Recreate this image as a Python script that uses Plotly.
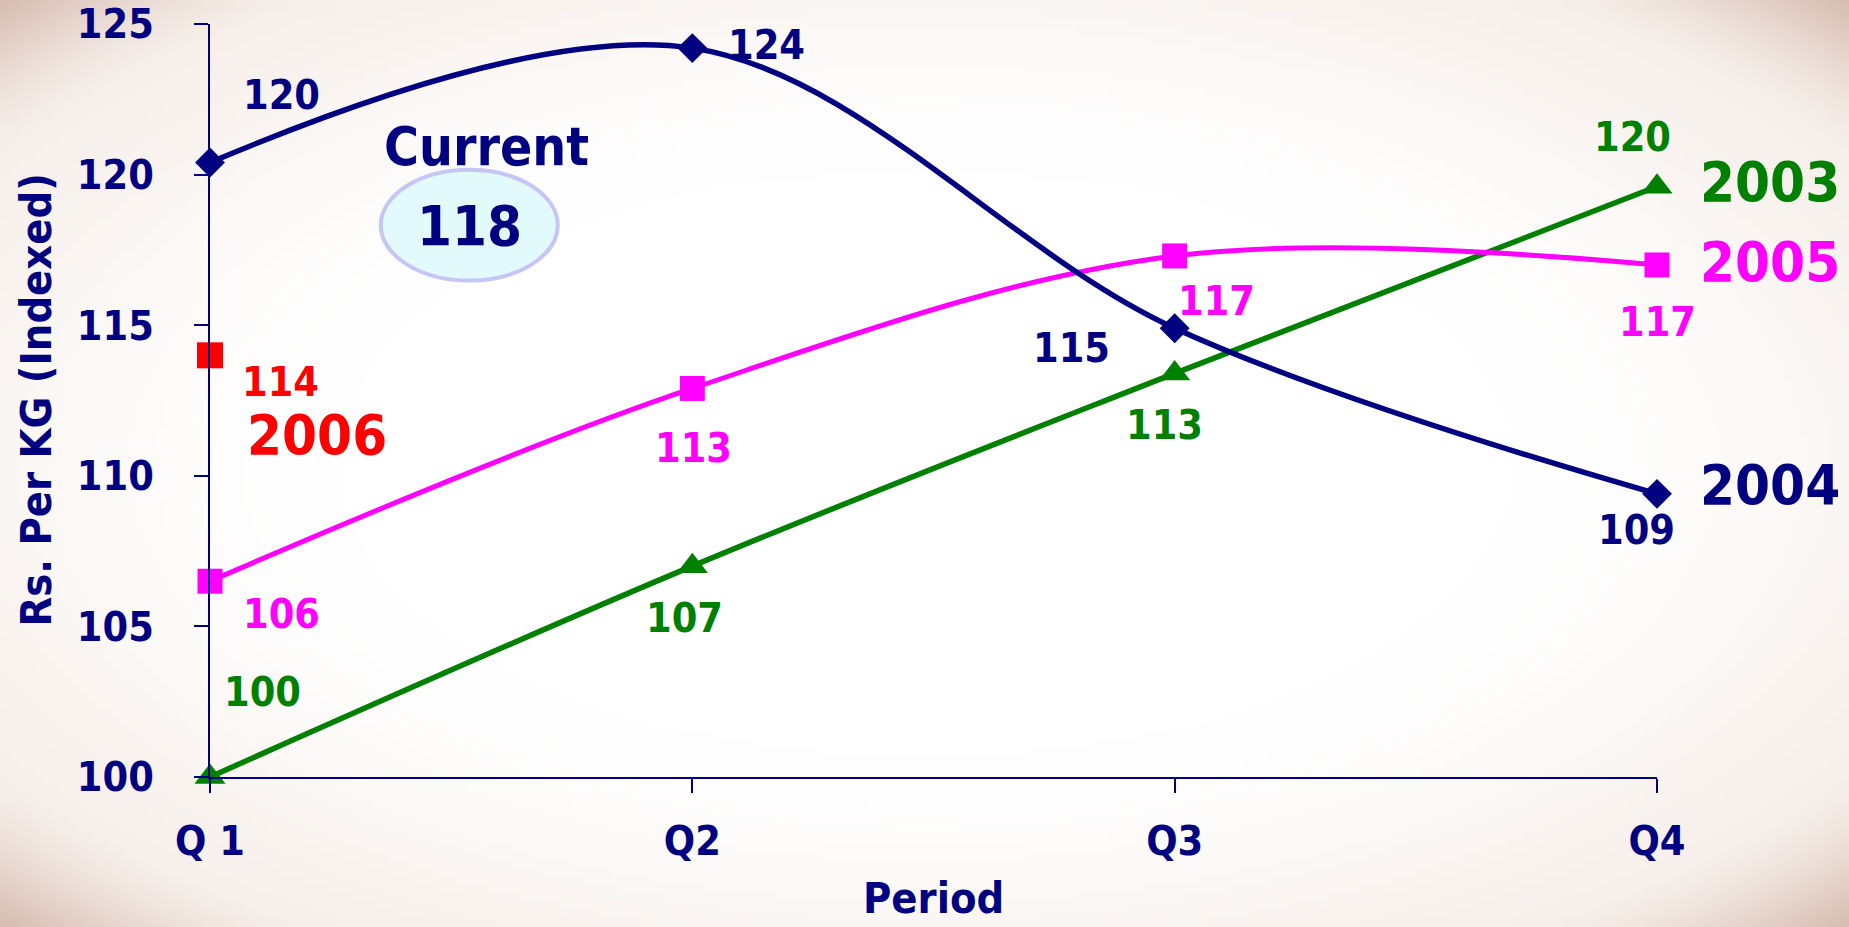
import base64
import struct
import zlib

import numpy as np
import plotly.graph_objects as go

# ---------------- data ----------------
periods = ["Q 1", "Q2", "Q3", "Q4"]
y2003 = [100.0, 107.0, 113.4, 119.6]
y2004 = [120.4, 124.2, 114.9, 109.4]
y2005 = [106.5, 112.9, 117.3, 117.0]
y2006 = [114.0]
lab2003 = ["100", "107", "113", "120"]
lab2004 = ["120", "124", "115", "109"]
lab2005 = ["106", "113", "117", "117"]
lab2006 = ["114"]
current_value = "118"
ytick_vals = [100, 105, 110, 115, 120, 125]

# ---------------- styles ----------------
NAVY = "#000080"
MAG = "#FF00FF"
GREEN = "#008000"
RED = "#FF0000"
FONT = "DejaVu Sans Condensed, DejaVu Sans, Verdana, sans-serif"

W, H = 1849, 927
ML, MR, MT, MB = 210, 192, 24, 150
PW, PH = W - ML - MR, H - MT - MB

# label pixel offsets (xshift, yshift) relative to each marker
off2004 = [(71, 68), (74, 3), (-103, -20), (-21, -36)]
off2005 = [(71, -33), (1, -60), (42, -45), (0, -57)]
off2003 = [(52, 85), (-8, -52), (-10, -52), (-25, 50)]
off2006 = [(70, -27)]


def vignette_png(w=240, h=120):
    u = (np.arange(w) + 0.5) / w
    v = (np.arange(h) + 0.5) / h
    U, V = np.meshgrid(u, v)
    dx = (U - 0.5) * 2
    dy = (V - 0.5) * 2
    d = np.sqrt(dx * dx + dy * dy) / np.sqrt(2)

    def smooth(a, b, x):
        t = np.clip((x - a) / (b - a), 0, 1)
        return t * t * (3 - 2 * t)

    t1 = smooth(0.45, 1.0, d)
    t2 = smooth(0.82, 1.05, d) ** 1.4
    white = np.array([255, 255, 255], float)
    edge = np.array([245, 236, 230], float)
    corner = np.array([208, 180, 168], float)
    img = white[None, None, :] * (1 - t1[..., None]) + edge[None, None, :] * t1[..., None]
    img = img * (1 - t2[..., None]) + corner[None, None, :] * t2[..., None]
    img = np.clip(img, 0, 255).astype(np.uint8)
    raw = b"".join(b"\x00" + img[j].tobytes() for j in range(h))

    def chunk(tag, data):
        c = struct.pack(">I", len(data)) + tag + data
        return c + struct.pack(">I", zlib.crc32(tag + data) & 0xFFFFFFFF)

    png = b"\x89PNG\r\n\x1a\n"
    png += chunk(b"IHDR", struct.pack(">IIBBBBB", w, h, 8, 2, 0, 0, 0))
    png += chunk(b"IDAT", zlib.compress(raw, 9))
    png += chunk(b"IEND", b"")
    return "data:image/png;base64," + base64.b64encode(png).decode()


fig = go.Figure()

series = [
    ("2003", y2003, GREEN, "triangle-up", 27, 5.5),
    ("2005", y2005, MAG, "square", 25, 5),
    ("2004", y2004, NAVY, "diamond", 23, 5.5),
]
for name, ys, col, sym, msize, lw in series:
    fig.add_trace(go.Scatter(
        x=periods[:len(ys)], y=ys, name=name, mode="lines+markers",
        line=dict(color=col, width=lw, shape="spline", smoothing=1.0),
        marker=dict(symbol=sym, size=msize, color=col),
        cliponaxis=False, showlegend=False,
    ))
fig.add_trace(go.Scatter(
    x=periods[:len(y2006)], y=y2006, name="2006", mode="markers",
    marker=dict(symbol="square", size=26, color=RED),
    cliponaxis=False, showlegend=False,
))

ann = []


def add_labels(ys, labels, offs, col):
    for i, (v, t, (dxp, dyp)) in enumerate(zip(ys, labels, offs)):
        ann.append(dict(x=periods[i], y=v, xref="x", yref="y", text=t,
                        showarrow=False, xshift=dxp, yshift=dyp,
                        xanchor="center", yanchor="middle",
                        font=dict(family=FONT, size=41, color=col, weight="bold")))


add_labels(y2004, lab2004, off2004, NAVY)
add_labels(y2005, lab2005, off2005, MAG)
add_labels(y2003, lab2003, off2003, GREEN)
add_labels(y2006, lab2006, off2006, RED)

# series names
for name, ys, col, dy in [("2003", y2003, GREEN, 5), ("2005", y2005, MAG, 3),
                          ("2004", y2004, NAVY, 9)]:
    ann.append(dict(x=periods[len(ys) - 1], y=ys[-1], xref="x", yref="y", text=name,
                    showarrow=False, xshift=41, yshift=dy, xanchor="left",
                    yanchor="middle",
                    font=dict(family=FONT, size=56, color=col, weight="bold")))
ann.append(dict(x=periods[0], y=y2006[0], xref="x", yref="y", text="2006",
                showarrow=False, xshift=35, yshift=-79, xanchor="left",
                yanchor="middle",
                font=dict(family=FONT, size=56, color=RED, weight="bold")))

# Current bubble
ann.append(dict(x=0.574, y=120.94, xref="x", yref="y", text="Current",
                showarrow=False, xanchor="center", yanchor="middle",
                font=dict(family=FONT, size=53, color=NAVY, weight="bold")))
ann.append(dict(x=0.537, y=118.32, xref="x", yref="y", text=current_value,
                showarrow=False, xanchor="center", yanchor="middle",
                font=dict(family=FONT, size=56, color=NAVY, weight="bold")))

# axis titles
ann.append(dict(x=0, y=0.5, xref="paper", yref="paper", text="Rs. Per KG (Indexed)",
                textangle=-90, showarrow=False, xanchor="center", yanchor="middle",
                xshift=-175,
                font=dict(family=FONT, size=43, color=NAVY, weight="bold")))
ann.append(dict(x=0.5, y=0, xref="paper", yref="paper", text="Period",
                showarrow=False, xanchor="center", yanchor="bottom",
                yshift=-(MB - 2),
                font=dict(family=FONT, size=43, color=NAVY, weight="bold")))

fig.add_shape(type="circle", xref="x", yref="y", x0=0.354, x1=0.721,
              y0=116.48, y1=120.16, layer="below",
              fillcolor="#E2FAFC", line=dict(color="#C6C6F6", width=4))

fig.update_layout(
    width=W, height=H, autosize=False,
    margin=dict(l=ML, r=MR, t=MT, b=MB, pad=0, autoexpand=False),
    paper_bgcolor="#FFFFFF", plot_bgcolor="rgba(0,0,0,0)",
    annotations=ann,
    images=[dict(source=vignette_png(), xref="paper", yref="paper",
                 x=-ML / PW, y=1 + MT / PH, sizex=W / PW, sizey=H / PH,
                 xanchor="left", yanchor="top", sizing="stretch", layer="below")],
    xaxis=dict(type="category", range=[0, 3], showgrid=False, zeroline=False,
               automargin=False,
               showline=True, linecolor=NAVY, linewidth=2,
               ticks="outside", ticklen=14, tickwidth=2, tickcolor=NAVY,
               ticklabelstandoff=13,
               tickfont=dict(family=FONT, size=41, color=NAVY, weight="bold")),
    yaxis=dict(range=[100, 125], tickvals=ytick_vals, showgrid=False, zeroline=False,
               automargin=False,
               showline=True, linecolor=NAVY, linewidth=2,
               ticks="outside", ticklen=14, tickwidth=2, tickcolor=NAVY,
               ticklabelstandoff=32,
               tickfont=dict(family=FONT, size=41, color=NAVY, weight="bold")),
)

fig.write_html("out.html")
